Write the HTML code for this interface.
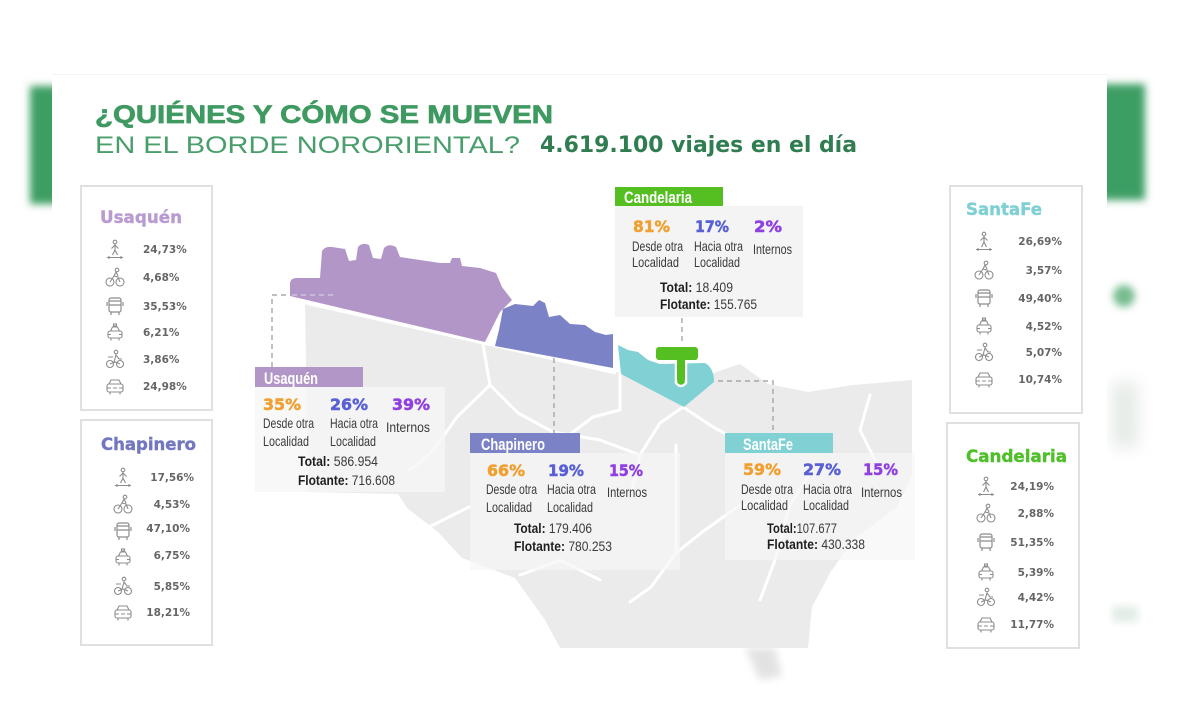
<!DOCTYPE html>
<html><head><meta charset="utf-8"><style>html,body{margin:0;padding:0;background:#fff}svg{display:block}</style></head>
<body>
<svg width="1200" height="720" viewBox="0 0 1200 720" xmlns="http://www.w3.org/2000/svg">
<defs>
<filter id="b" x="-50%" y="-50%" width="200%" height="200%"><feGaussianBlur stdDeviation="4"/></filter>
<filter id="b2" x="-80%" y="-80%" width="260%" height="260%"><feGaussianBlur stdDeviation="8"/></filter>
<symbol id="walk" viewBox="0 0 20 20"><g fill="none" stroke="#8c8c8c" stroke-width="1.1"><circle cx="10" cy="3" r="1.8"/><path d="M10 5v6M6.5 9.5l3.5-3.5 3.5 3.5M7.5 16l2.5-5 2.5 5M2 18.5h16M4 17v3M16 17v3"/></g></symbol>
<symbol id="bike" viewBox="0 0 20 20"><g fill="none" stroke="#8c8c8c" stroke-width="1.1"><circle cx="5" cy="15" r="4"/><circle cx="15" cy="15" r="4"/><circle cx="12" cy="3" r="1.8"/><path d="M5 15l4-6 4 1 2 5M9 9l2-4 2 4"/></g></symbol>
<symbol id="bus" viewBox="0 0 20 20"><g fill="none" stroke="#8c8c8c" stroke-width="1.2"><rect x="4" y="2" width="12" height="14" rx="2"/><path d="M4 9h12M4 5h12M6 16v3M14 16v3M2 6v4M18 6v4"/></g></symbol>
<symbol id="taxi" viewBox="0 0 20 20"><g fill="none" stroke="#8c8c8c" stroke-width="1.1"><rect x="3" y="9" width="14" height="7" rx="2"/><path d="M5.5 9l2-4h5l2 4M6 16v2.5M14 16v2.5M3 12.5h3M14 12.5h3"/><rect x="8.5" y="2" width="3" height="2"/></g></symbol>
<symbol id="moto" viewBox="0 0 20 20"><g fill="none" stroke="#8c8c8c" stroke-width="1.1"><circle cx="5" cy="15" r="3.5"/><circle cx="15" cy="15" r="3.5"/><circle cx="11" cy="3" r="1.8"/><path d="M5 15l5-2 5 2M9 13l2-7 3 4h3M3 8h5"/></g></symbol>
<symbol id="car" viewBox="0 0 20 20"><g fill="none" stroke="#8c8c8c" stroke-width="1.1"><rect x="2" y="8" width="16" height="8" rx="2"/><path d="M4 8l2-4h8l2 4M5 16v2.5M15 16v2.5M2 12h4M14 12h4M8 12h4"/></g></symbol>
</defs>

<rect width="1200" height="720" fill="#fff"/>
<rect x="30" y="86" width="40" height="118" fill="#3e9e63" filter="url(#b)"/>
<rect x="1090" y="84" width="55" height="116" fill="#3e9e63" filter="url(#b)"/>
<circle cx="1124" cy="296" r="11" fill="#5fb07a" opacity="0.85" filter="url(#b)"/>
<rect x="1112" y="382" width="26" height="66" fill="#e6ebe7" filter="url(#b2)"/>
<rect x="1112" y="606" width="26" height="16" fill="#e3ede6" filter="url(#b)"/>
<rect x="52" y="74" width="1055" height="600" fill="#fff"/>
<line x1="52" y1="74.5" x2="1107" y2="74.5" stroke="#f3f3f3"/>

<text x="95" y="123" font-family="Liberation Sans, sans-serif" font-weight="bold" font-size="25" fill="#3f9a62" stroke="#3f9a62" stroke-width="0.7" textLength="458" lengthAdjust="spacingAndGlyphs">¿QUIÉNES Y CÓMO SE MUEVEN</text>
<text x="95" y="153" font-family="Liberation Sans, sans-serif" font-size="24" fill="#4a9e6c" textLength="425" lengthAdjust="spacingAndGlyphs">EN EL BORDE NORORIENTAL?</text>
<text x="540" y="152" font-family="DejaVu Sans, sans-serif" font-weight="bold" font-size="22" fill="#2f7d50" textLength="317" lengthAdjust="spacingAndGlyphs">4.619.100 viajes en el día</text>

<path d="M745,648 L775,648 L782,676 L760,680 Z" fill="#dcdcdc" filter="url(#b)" opacity="0.8"/>
<path d="M305,300 L615,372 L700,380 L716,372 L740,364 L768,384 L808,392 L853,385 L912,380 L912,475 L897,507 L853,540 L830,573 L812,607 L808,648 L560,648 L545,620 L515,578 L462,558 L438,532 L407,508 L398,494 L308,492 Z" fill="#ebebeb"/>
<g fill="none" stroke="#fff" stroke-width="3" stroke-linejoin="round" stroke-linecap="round">
<path d="M483,345 L490,385 L518,413 L553,432"/>
<path d="M490,385 L457,417 L432,452 L410,470"/>
<path d="M620,372 L620,410 L593,417 L565,438"/>
<path d="M683,407 L660,423 L640,455 L632,490"/>
<path d="M683,407 L713,427 L726,434"/>
<path d="M676,445 L676,553 L651,587 L630,602"/>
<path d="M676,553 L701,533 L737,507 L760,500"/>
<path d="M423,530 L469,507"/>
<path d="M812,470 L790,505 L775,560 L760,600"/>
<path d="M553,432 L600,440 L640,455"/>
<path d="M870,395 L860,430 L880,470"/>
<path d="M520,575 L560,560 L600,580"/>
</g>
<path d="M288,298 L616,372" stroke="#fff" stroke-width="5"/>

<path d="M290,284 Q290,278 297,278 L320,278 L322,251 Q325,246 332,247 L345,249 L349,261 L356,260 L358,247 Q362,242 369,245 L373,258 L381,259 L384,248 Q389,243 396,247 L400,257 L420,260 L440,263 L450,263 L452,258 L460,258 L462,266 L480,268 L496,273 L502,287 L512,300 L500,312 L493,326 L485,342 L290,296 Z" fill="#b396c8"/>
<path d="M503,309 L515,304 L533,306 L539,300 L545,303 L549,317 L560,315 L570,324 L585,325 L595,332 L606,335 L613,334 L613,368 L495,346 L499,330 Z" fill="#7b82c6"/>
<path d="M618,345 L628,350 L638,352 L648,360 L660,364 L705,363 Q714,368 714,382 L684,407 L621,374 Z" fill="#7fd1d4"/>
<path d="M676,358 L676,383 Q681,389 686,383 L686,358" fill="#55bf22" stroke="#fff" stroke-width="2.5"/>
<rect x="656" y="347" width="42" height="13" rx="3" fill="#55bf22"/>
<rect x="677" y="356" width="8" height="26" rx="3" fill="#55bf22"/>

<g stroke="#999" stroke-width="1.2" stroke-dasharray="5,4" fill="none">
<path d="M272,367 L272,295 L290,295"/>
<path d="M292,295 L333,295" stroke="#d8cce3"/>
<path d="M554,358 L554,433"/>
<path d="M682,318 L682,345"/>
<path d="M718,381 L773,381 L773,433"/>
</g>

<rect x="255" y="387" width="190" height="105" fill="#f6f6f6" opacity="0.8"/>
<rect x="470" y="453" width="210" height="117" fill="#f6f6f6" opacity="0.7"/>
<rect x="725" y="453" width="190" height="107" fill="#f6f6f6" opacity="0.7"/>
<rect x="615" y="206" width="188" height="111" fill="#f4f4f4"/>

<rect x="255" y="367" width="108" height="20" fill="#b396c8"/>
<rect x="470" y="433" width="110" height="20" fill="#7b82c6"/>
<rect x="725" y="433" width="108" height="20" fill="#7fd1d4"/>
<rect x="615" y="187" width="108" height="19" fill="#55bf22"/>

<g font-family="Liberation Sans Narrow, Liberation Sans, sans-serif" font-weight="bold" font-size="17" fill="#fff">
<text x="264" y="384" textLength="54" lengthAdjust="spacingAndGlyphs">Usaquén</text>
<text x="481" y="450" textLength="64" lengthAdjust="spacingAndGlyphs">Chapinero</text>
<text x="743" y="450" textLength="50" lengthAdjust="spacingAndGlyphs">SantaFe</text>
<text x="624" y="203" textLength="68" lengthAdjust="spacingAndGlyphs">Candelaria</text>
</g>

<g font-family="DejaVu Sans, sans-serif" font-weight="bold" font-size="16" stroke-width="0.5">
<text x="263" y="410" fill="#f0a030" stroke="#f0a030" textLength="38" lengthAdjust="spacingAndGlyphs">35%</text>
<text x="330" y="410" fill="#5860d4" stroke="#5860d4" textLength="38" lengthAdjust="spacingAndGlyphs">26%</text>
<text x="392" y="410" fill="#9040e0" stroke="#9040e0" textLength="38" lengthAdjust="spacingAndGlyphs">39%</text>
<text x="487" y="476" fill="#f0a030" stroke="#f0a030" textLength="38" lengthAdjust="spacingAndGlyphs">66%</text>
<text x="548" y="476" fill="#5860d4" stroke="#5860d4" textLength="36" lengthAdjust="spacingAndGlyphs">19%</text>
<text x="609" y="476" fill="#9040e0" stroke="#9040e0" textLength="34" lengthAdjust="spacingAndGlyphs">15%</text>
<text x="743" y="475" fill="#f0a030" stroke="#f0a030" textLength="38" lengthAdjust="spacingAndGlyphs">59%</text>
<text x="803" y="475" fill="#5860d4" stroke="#5860d4" textLength="38" lengthAdjust="spacingAndGlyphs">27%</text>
<text x="863" y="475" fill="#9040e0" stroke="#9040e0" textLength="35" lengthAdjust="spacingAndGlyphs">15%</text>
<text x="633" y="232" fill="#f0a030" stroke="#f0a030" textLength="37" lengthAdjust="spacingAndGlyphs">81%</text>
<text x="695" y="232" fill="#5860d4" stroke="#5860d4" textLength="34" lengthAdjust="spacingAndGlyphs">17%</text>
<text x="754" y="232" fill="#9040e0" stroke="#9040e0" textLength="28" lengthAdjust="spacingAndGlyphs">2%</text>
</g>

<g font-family="Liberation Sans Narrow, Liberation Sans, sans-serif" font-size="14" fill="#3a3a3a">
<text x="263" y="428" textLength="51" lengthAdjust="spacingAndGlyphs">Desde otra</text>
<text x="263" y="446" textLength="46" lengthAdjust="spacingAndGlyphs">Localidad</text>
<text x="330" y="428" textLength="48" lengthAdjust="spacingAndGlyphs">Hacia otra</text>
<text x="330" y="446" textLength="46" lengthAdjust="spacingAndGlyphs">Localidad</text>
<text x="386" y="432" textLength="44" lengthAdjust="spacingAndGlyphs">Internos</text>

<text x="486" y="494" textLength="51" lengthAdjust="spacingAndGlyphs">Desde otra</text>
<text x="486" y="512" textLength="46" lengthAdjust="spacingAndGlyphs">Localidad</text>
<text x="547" y="494" textLength="49" lengthAdjust="spacingAndGlyphs">Hacia otra</text>
<text x="547" y="512" textLength="46" lengthAdjust="spacingAndGlyphs">Localidad</text>
<text x="607" y="497" textLength="40" lengthAdjust="spacingAndGlyphs">Internos</text>

<text x="741" y="494" textLength="52" lengthAdjust="spacingAndGlyphs">Desde otra</text>
<text x="741" y="510" textLength="47" lengthAdjust="spacingAndGlyphs">Localidad</text>
<text x="803" y="494" textLength="49" lengthAdjust="spacingAndGlyphs">Hacia otra</text>
<text x="803" y="510" textLength="46" lengthAdjust="spacingAndGlyphs">Localidad</text>
<text x="861" y="497" textLength="41" lengthAdjust="spacingAndGlyphs">Internos</text>

<text x="632" y="251" textLength="51" lengthAdjust="spacingAndGlyphs">Desde otra</text>
<text x="632" y="267" textLength="47" lengthAdjust="spacingAndGlyphs">Localidad</text>
<text x="694" y="251" textLength="49" lengthAdjust="spacingAndGlyphs">Hacia otra</text>
<text x="694" y="267" textLength="46" lengthAdjust="spacingAndGlyphs">Localidad</text>
<text x="753" y="254" textLength="39" lengthAdjust="spacingAndGlyphs">Internos</text>

<text x="298" y="466" textLength="80" lengthAdjust="spacingAndGlyphs"><tspan font-weight="bold" fill="#1e1e1e">Total:</tspan> 586.954</text>
<text x="298" y="485" textLength="97" lengthAdjust="spacingAndGlyphs"><tspan font-weight="bold" fill="#1e1e1e">Flotante:</tspan> 716.608</text>
<text x="514" y="533" textLength="78" lengthAdjust="spacingAndGlyphs"><tspan font-weight="bold" fill="#1e1e1e">Total:</tspan> 179.406</text>
<text x="514" y="551" textLength="98" lengthAdjust="spacingAndGlyphs"><tspan font-weight="bold" fill="#1e1e1e">Flotante:</tspan> 780.253</text>
<text x="767" y="533" textLength="70" lengthAdjust="spacingAndGlyphs"><tspan font-weight="bold" fill="#1e1e1e">Total:</tspan>107.677</text>
<text x="767" y="549" textLength="98" lengthAdjust="spacingAndGlyphs"><tspan font-weight="bold" fill="#1e1e1e">Flotante:</tspan> 430.338</text>
<text x="660" y="292" textLength="73" lengthAdjust="spacingAndGlyphs"><tspan font-weight="bold" fill="#1e1e1e">Total:</tspan> 18.409</text>
<text x="660" y="309" textLength="97" lengthAdjust="spacingAndGlyphs"><tspan font-weight="bold" fill="#1e1e1e">Flotante:</tspan> 155.765</text>
</g>

<g fill="#fff" stroke="#e0e0e0" stroke-width="2">
<rect x="81" y="186" width="131" height="224"/>
<rect x="81" y="420" width="131" height="225"/>
<rect x="950" y="186" width="132" height="227"/>
<rect x="947" y="423" width="132" height="225"/>
</g>
<g font-family="DejaVu Sans, sans-serif" font-weight="bold" font-size="17" stroke-width="0.4">
<text x="100" y="223" fill="#b89bd0" stroke="#b89bd0" textLength="82" lengthAdjust="spacingAndGlyphs">Usaquén</text>
<text x="101" y="450" fill="#7277c0" stroke="#7277c0" textLength="95" lengthAdjust="spacingAndGlyphs">Chapinero</text>
<text x="966" y="215" fill="#7fd0d3" stroke="#7fd0d3" textLength="76" lengthAdjust="spacingAndGlyphs">SantaFe</text>
<text x="966" y="462" fill="#4fbf2a" stroke="#4fbf2a" textLength="101" lengthAdjust="spacingAndGlyphs">Candelaria</text>
</g>

<use href="#walk" x="105" y="239" width="20" height="20"/>
<use href="#bike" x="105" y="267" width="20" height="20"/>
<use href="#bus" x="105" y="296" width="20" height="20"/>
<use href="#taxi" x="105" y="322" width="20" height="20"/>
<use href="#moto" x="105" y="349" width="20" height="20"/>
<use href="#car" x="105" y="376" width="20" height="20"/>

<use href="#walk" x="113" y="467" width="20" height="20"/>
<use href="#bike" x="113" y="494" width="20" height="20"/>
<use href="#bus" x="113" y="521" width="20" height="20"/>
<use href="#taxi" x="113" y="547" width="20" height="20"/>
<use href="#moto" x="113" y="576" width="20" height="20"/>
<use href="#car" x="113" y="602" width="20" height="20"/>

<use href="#walk" x="974" y="231" width="20" height="20"/>
<use href="#bike" x="974" y="260" width="20" height="20"/>
<use href="#bus" x="974" y="288" width="20" height="20"/>
<use href="#taxi" x="974" y="316" width="20" height="20"/>
<use href="#moto" x="974" y="342" width="20" height="20"/>
<use href="#car" x="974" y="369" width="20" height="20"/>

<use href="#walk" x="976" y="476" width="20" height="20"/>
<use href="#bike" x="976" y="503" width="20" height="20"/>
<use href="#bus" x="976" y="532" width="20" height="20"/>
<use href="#taxi" x="976" y="562" width="20" height="20"/>
<use href="#moto" x="976" y="587" width="20" height="20"/>
<use href="#car" x="976" y="614" width="20" height="20"/>

<g font-family="DejaVu Sans, sans-serif" font-weight="bold" font-size="10.5" fill="#666">
<text x="143" y="253">24,73%</text>
<text x="143" y="281">4,68%</text>
<text x="143" y="310">35,53%</text>
<text x="143" y="336">6,21%</text>
<text x="143" y="363">3,86%</text>
<text x="143" y="390">24,98%</text>
</g>
<g font-family="DejaVu Sans, sans-serif" font-weight="bold" font-size="10.5" fill="#666" text-anchor="end">
<text x="194" y="481">17,56%</text>
<text x="190" y="508">4,53%</text>
<text x="190" y="532">47,10%</text>
<text x="190" y="559">6,75%</text>
<text x="190" y="590">5,85%</text>
<text x="190" y="616">18,21%</text>

<text x="1062" y="245">26,69%</text>
<text x="1062" y="274">3,57%</text>
<text x="1062" y="302">49,40%</text>
<text x="1062" y="330">4,52%</text>
<text x="1062" y="356">5,07%</text>
<text x="1062" y="383">10,74%</text>

<text x="1054" y="490">24,19%</text>
<text x="1054" y="517">2,88%</text>
<text x="1054" y="546">51,35%</text>
<text x="1054" y="576">5,39%</text>
<text x="1054" y="601">4,42%</text>
<text x="1054" y="628">11,77%</text>
</g>
</svg>
</body></html>
